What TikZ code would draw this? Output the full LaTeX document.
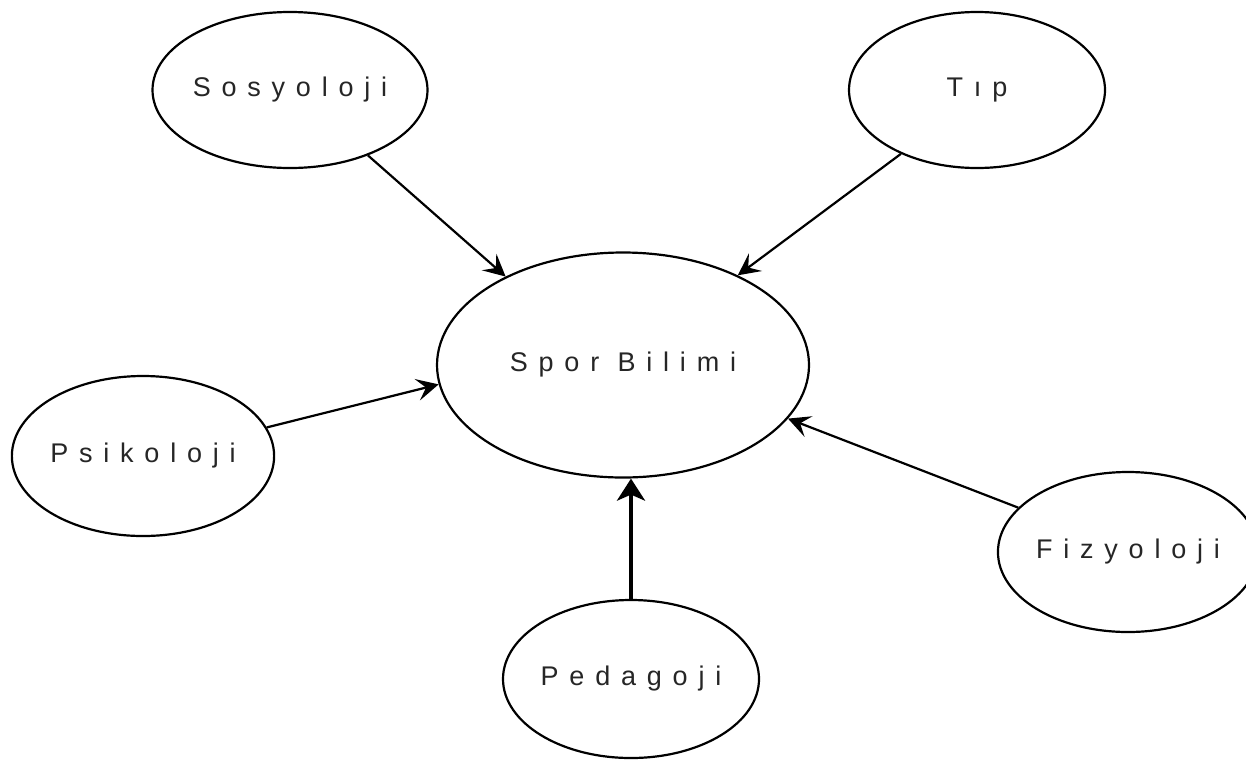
\documentclass[tikz,border=0pt]{standalone}
\usepackage{fontspec}
\newfontfamily\lblfont[LetterSpace=40]{Liberation Sans}
\usetikzlibrary{shapes.geometric,arrows.meta}
\begin{document}
\begin{tikzpicture}[x=1pt,y=-1pt,
  bubble/.style={ellipse,draw=black,line width=2.2pt,inner sep=0pt,
    font=\lblfont\fontsize{27}{30}\selectfont,text=black!85},
  link/.style={line width=2.2pt,-{Stealth[length=22pt,width=22pt,inset=9pt]}},
  heavylink/.style={line width=4.5pt,-{Stealth[length=22pt,width=28pt,inset=6pt]}}]
\clip (0,0) rectangle (1246,761);
\fill[white] (0,0) rectangle (1246,761);
\node[bubble,minimum width=262pt,minimum height=156pt] (sos) at (290,90) {Sosyoloji};
\node[bubble,minimum width=256pt,minimum height=156pt] (tip) at (977,90) {Tıp};
\node[bubble,minimum width=372pt,minimum height=225pt] (spor) at (623,365) {Spor Bilimi};
\node[bubble,minimum width=262pt,minimum height=160pt] (psi) at (143,456) {Psikoloji};
\node[bubble,minimum width=258pt,minimum height=160pt] (fiz) at (1128,552) {Fizyoloji};
\node[bubble,minimum width=256pt,minimum height=158pt] (ped) at (631,679) {Pedagoji};
\draw[link] (sos.-40) -- (spor.143);
\draw[link] (tip.220) -- (spor.38);
\draw[link] (psi.13) -- (spor.186);
\draw[link] (fiz.158) -- (spor.-18.6);
\draw[heavylink] (ped.north) -- (ped.north |- spor.south);
\end{tikzpicture}
\end{document}
